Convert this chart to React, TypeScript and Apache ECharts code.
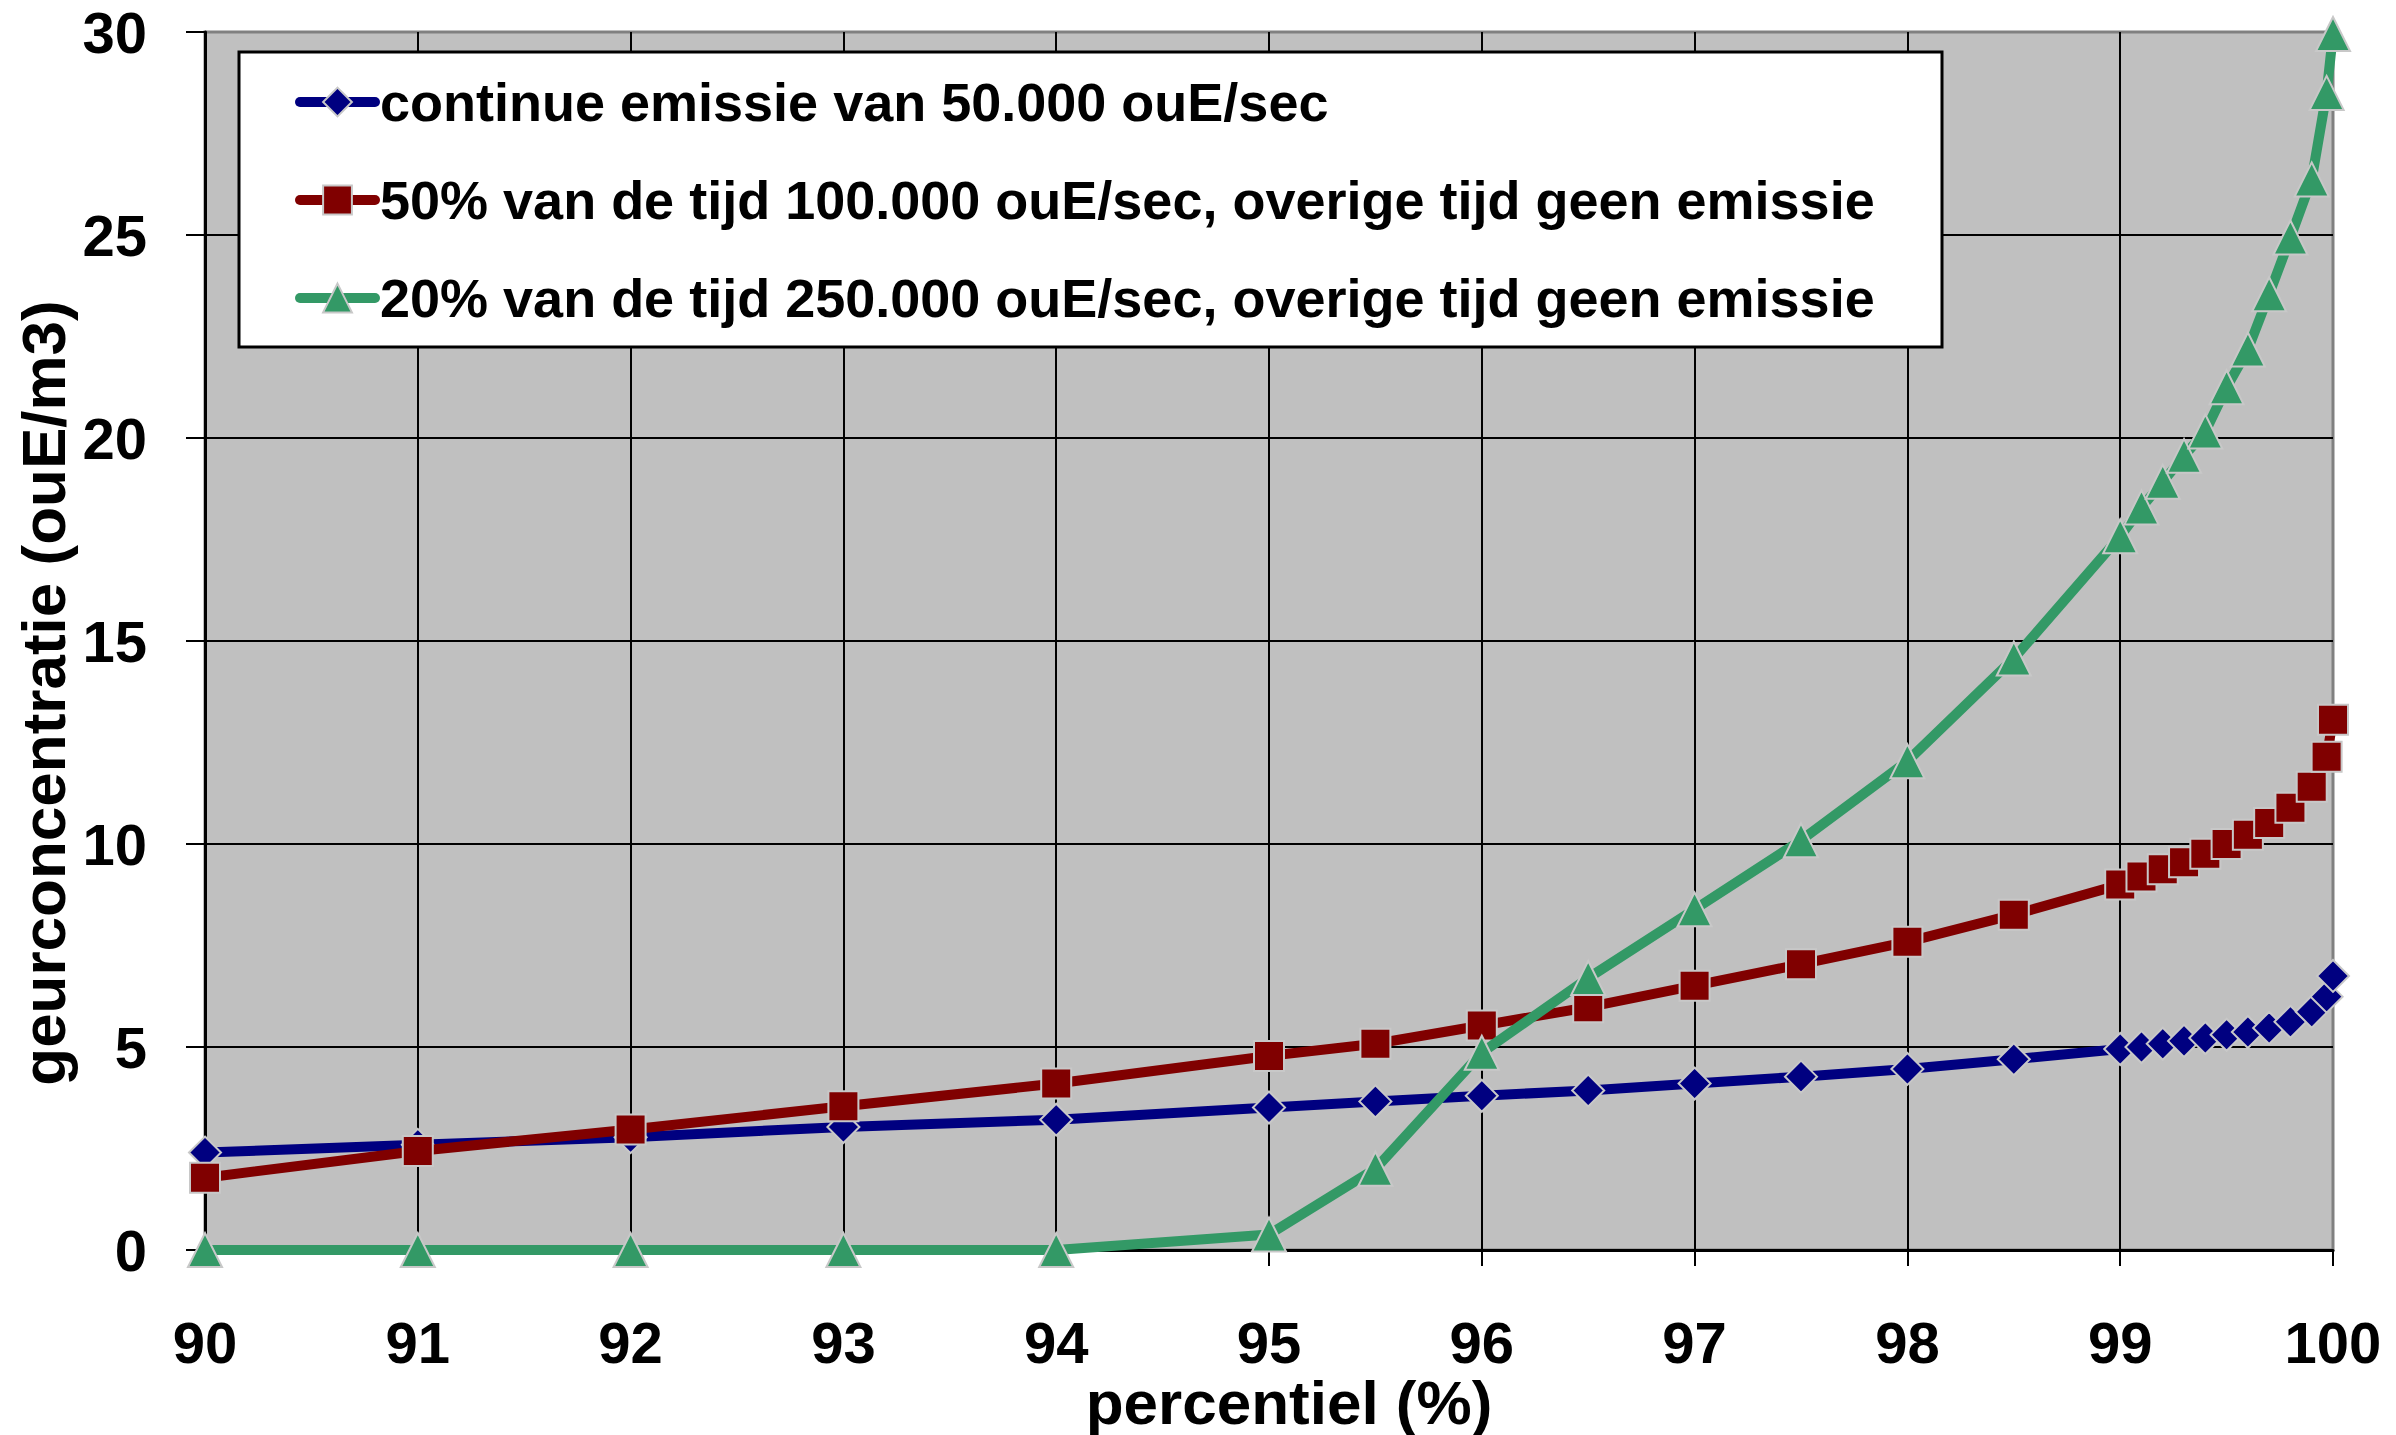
import React, { useEffect, useRef } from "react";
import * as echarts from "echarts";

const percentiles = [90, 91, 92, 93, 94, 95, 95.5, 96, 96.5, 97, 97.5, 98, 98.5, 99, 99.1, 99.2, 99.3, 99.4, 99.5, 99.6, 99.7, 99.8, 99.9, 99.97, 100];

const continueValues = [2.4, 2.59, 2.78, 3.03, 3.21, 3.51, 3.66, 3.8, 3.93, 4.1, 4.27, 4.46, 4.7, 4.95, 5.0, 5.08, 5.15, 5.22, 5.3, 5.37, 5.47, 5.62, 5.87, 6.24, 6.75];
const halfTimeValues = [1.78, 2.44, 2.97, 3.54, 4.1, 4.78, 5.08, 5.53, 5.98, 6.51, 7.04, 7.59, 8.26, 9.0, 9.2, 9.38, 9.55, 9.76, 10.0, 10.23, 10.52, 10.89, 11.41, 12.15, 13.06];
const fifthTimeValues = [0, 0, 0, 0, 0, 0.38, 2.0, 4.86, 6.7, 8.39, 10.09, 12.04, 14.57, 17.58, 18.29, 18.92, 19.56, 20.16, 21.25, 22.18, 23.54, 24.94, 26.37, 28.5, 29.95];

const seriesNames = [
  "continue emissie van 50.000 ouE/sec",
  "50% van de tijd 100.000 ouE/sec, overige tijd geen emissie",
  "20% van de tijd 250.000 ouE/sec, overige tijd geen emissie",
];
const seriesColors = ["#000080", "#800000", "#339966"];
const seriesSymbols = ["diamond", "rect", "triangle"];
const seriesSymbolSizes = [32, 30, 34];

const xTicks = [90, 91, 92, 93, 94, 95, 96, 97, 98, 99, 100];
const yTicks = [0, 5, 10, 15, 20, 25, 30];

const xTitle = "percentiel (%)";
const yTitle = "geurconcentratie (ouE/m3)";

const mainFont = "'Liberation Sans', Arial, sans-serif";

export default function App() {
  const ref = useRef<HTMLDivElement>(null);

  useEffect(() => {
    if (!ref.current) return;
    const chart = echarts.init(ref.current, undefined, { renderer: "svg" });
    const valueSets = [continueValues, halfTimeValues, fifthTimeValues];

    const series = valueSets.map((vals, i) => ({
      name: seriesNames[i],
      type: "line",
      data: percentiles.map((p, j) => [p, vals[j]]),
      symbol: seriesSymbols[i],
      symbolSize: seriesSymbolSizes[i],
      showAllSymbol: true,
      lineStyle: { color: seriesColors[i], width: 10, cap: "round", join: "round" },
      itemStyle: { color: seriesColors[i], borderColor: "#C8C8C8", borderWidth: 2 },
      z: 3 + i,
    }));

    chart.setOption({
      animation: false,
      backgroundColor: "#FFFFFF",
      grid: {
        left: 205,
        right: 63,
        top: 32,
        bottom: 185,
        show: true,
        backgroundColor: "#C0C0C0",
        borderColor: "#808080",
        borderWidth: 3,
      },
      xAxis: {
        type: "value",
        min: xTicks[0],
        max: xTicks[xTicks.length - 1],
        interval: 1,
        axisLine: { show: true, onZero: false, lineStyle: { color: "#000", width: 3 } },
        axisTick: { show: true, inside: false, length: 16, lineStyle: { color: "#000", width: 2 } },
        axisLabel: {
          margin: 70,
          color: "#000",
          fontFamily: mainFont,
          fontWeight: "bold",
          fontSize: 58,
          lineHeight: 44,
        },
        splitLine: { show: true, showMaxLine: false, lineStyle: { color: "#000", width: 2 } },
      },
      yAxis: {
        type: "value",
        min: yTicks[0],
        max: yTicks[yTicks.length - 1],
        interval: 5,
        axisLine: { show: true, lineStyle: { color: "#000", width: 3 } },
        axisTick: { show: true, inside: false, length: 19, lineStyle: { color: "#000", width: 2 } },
        axisLabel: {
          margin: 58,
          color: "#000",
          fontFamily: mainFont,
          fontWeight: "bold",
          fontSize: 58,
        },
        splitLine: { show: true, showMaxLine: false, showMinLine: false, lineStyle: { color: "#000", width: 2 } },
      },
      legend: {
        show: true,
        orient: "vertical",
        left: 295,
        top: 75,
        itemWidth: 75,
        itemHeight: 36,
        itemGap: 44,
        padding: 0,
        z: 20,
        data: seriesNames,
        textStyle: { color: "#000", fontFamily: mainFont, fontWeight: "bold", fontSize: 54 },
        lineStyle: { width: 10, cap: "round" },
        selectedMode: false,
      },
      graphic: {
        elements: [
          {
            type: "rect",
            z: 10,
            shape: { x: 239, y: 52, width: 1703, height: 295 },
            style: { fill: "#FFFFFF", stroke: "#000000", lineWidth: 3 },
          },
          {
            type: "text",
            z: 10,
            x: 1289,
            y: 1402,
            style: {
              text: xTitle,
              fill: "#000",
              font: `bold 62px ${mainFont}`,
              lineHeight: 44,
              textAlign: "center",
              textVerticalAlign: "middle",
            },
          },
          {
            type: "text",
            z: 10,
            x: 43,
            y: 693,
            rotation: Math.PI / 2,
            style: {
              text: yTitle,
              fill: "#000",
              font: `bold 62px ${mainFont}`,
              textAlign: "center",
              textVerticalAlign: "middle",
            },
          },
        ],
      },
      series,
    });

    return () => chart.dispose();
  }, []);

  return (
    <div
      ref={ref}
      style={{ position: "fixed", left: 0, top: 0, width: 2396, height: 1435, background: "#fff" }}
    />
  );
}
